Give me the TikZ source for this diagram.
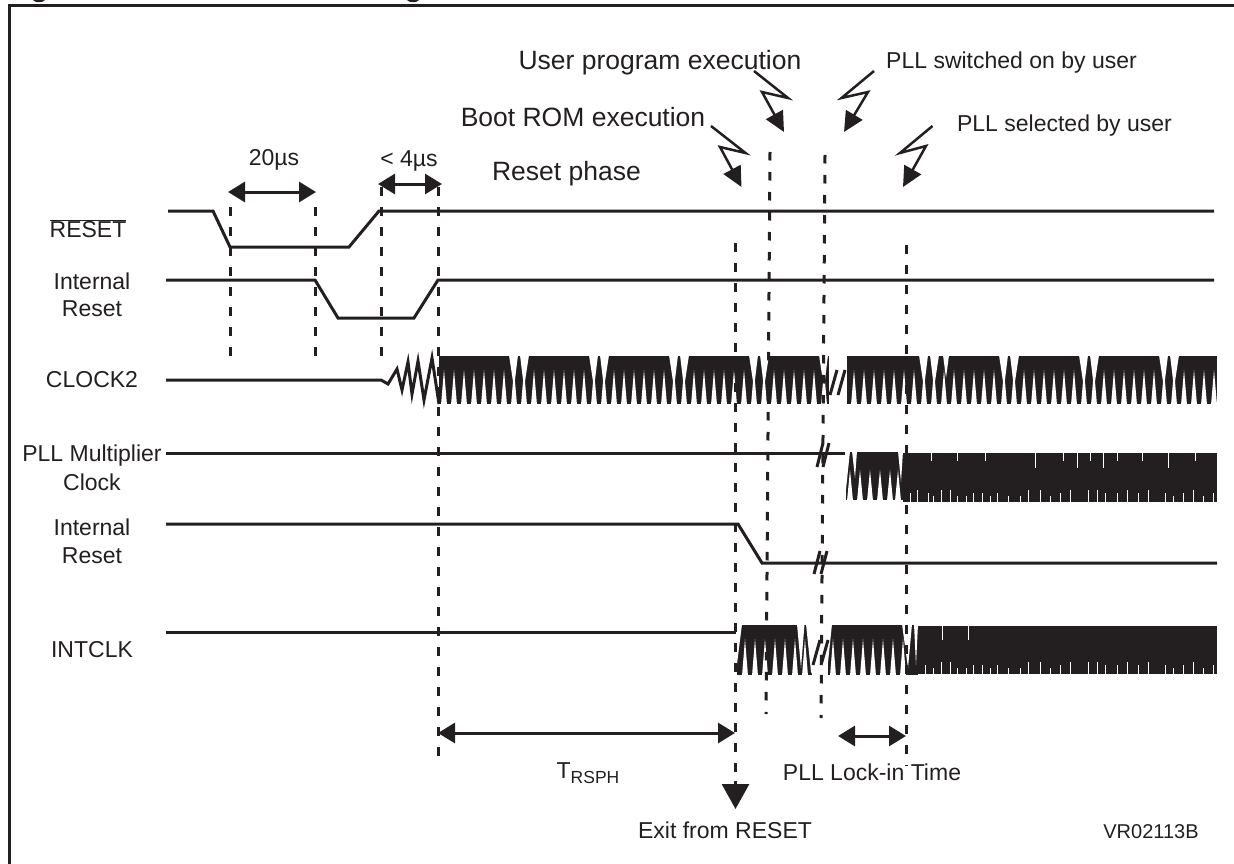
\documentclass[tikz,border=0pt]{standalone}
\usepackage{fontspec}
\setmainfont{Liberation Sans}
\usepackage{tikz}
\usetikzlibrary{arrows.meta}

\definecolor{ink}{HTML}{231F20}
\tikzset{
    lab/.style={font=\fontsize{23}{27}\selectfont, text=ink, align=center},
    biglab/.style={font=\fontsize{26.5}{30}\selectfont, text=ink},
    smalllab/.style={font=\fontsize{20}{24}\selectfont, text=ink},
    signal/.style={draw=ink, line width=3pt, line join=miter},
    marker/.style={draw=ink, line width=3pt, dash pattern=on 8.5pt off 11.5pt},
    wave/.style={fill=ink, draw=none},
    notch/.style={fill=white, draw=none},
    hairline/.style={draw=white, line width=0.6pt},
    slash/.style={draw=ink, line width=3pt},
    dimarrow/.style={draw=ink, line width=3pt, {Triangle[length=17pt,width=20pt]}-{Triangle[length=17pt,width=20pt]}},
    bolt/.style={draw=ink, line width=2.5pt, line join=miter, -{Triangle[length=20pt,width=19pt]}}
}

\begin{document}
\begin{tikzpicture}[x=1pt, y=-1pt]
            \useasboundingbox (0,0) rectangle (1234,864);

            % Frame (top and left only) and clipped title
            \draw[draw=ink, line width=3pt] (1234,6) -- (9.5,6) -- (9.5,864);
            \fill[ink] (33,0) .. controls (35,3) and (43,3) .. (45,0) -- cycle;
            \fill[ink] (407,0) .. controls (409,3) and (417,3) .. (419,0) -- cycle;

            % Signal names
            \node[lab] (resetname) at (88,229) {$\overline{\mbox{RESET}}$};
            \node[lab] (intresetA) at (92,295) {Internal\\Reset};
            \node[lab] (clockname) at (92,380) {CLOCK2};
            \node[lab, font=\fontsize{23}{29}\selectfont] (pllname) at (92,467.5) {PLL Multiplier\\Clock};
            \node[lab, font=\fontsize{23}{28}\selectfont] (intresetB) at (92,541) {Internal\\Reset};
            \node[lab] (intclkname) at (92,650) {INTCLK};

            % Levels
            \draw[signal] (168,211) -- (213,211) -- (230,247) -- (349,247) -- (379,211) -- (1214,211);
            \draw[signal] (166,280) -- (315,280) -- (338,318) -- (414,318) -- (438,280) -- (1214,280);
            \draw[signal] (166,453) -- (846,453);
            \draw[signal] (166,524) -- (738,524) -- (762,563) -- (1217,563);
            \draw[signal] (166,632) -- (738,632);

            % CLOCK2 start-up and bursts
            \draw[signal] (166,380) -- (381,380) -- (388,384) -- (397,369) -- (402,390) -- (408,362) -- (412,394) -- (418,361) -- (424,400) -- (432,358) -- (439,404);
            \fill[wave] (439,356) rectangle (829,404);
            \fill[wave] (847,356) rectangle (1217,404);
            \foreach \x in {444,454,...,824,854,864,...,1214}
                \fill[notch] (\x-3,405) -- (\x,370) -- (\x+3,405) -- cycle;
            \foreach \x in {514,594,674,754,824,924,1004,1084,1164} {
                \fill[notch] (\x-5,355) -- (\x,388) -- (\x+4,355) -- cycle;
                \fill[notch] (\x+6,355) -- (\x+10,388) -- (\x+15,355) -- cycle;
            }
            \fill[notch] (829,355) rectangle (840,405);
            \fill[notch] (943,355) -- (946,378) -- (949,355) -- cycle;
            \draw[slash] (830,395) -- (837,370);
            \draw[slash] (838,395) -- (845,370);

            % PLL multiplier clock
            \draw[slash] (817,467) -- (823,443);
            \draw[slash] (823,467) -- (829,443);
            \fill[wave] (846,452) rectangle (903,500);
            \fill[wave] (903,453) rectangle (1217,502);
            \foreach \x in {850,860,870,880,890,898}
                \fill[notch] (\x-3,501) -- (\x,470) -- (\x+3,501) -- cycle;
            \fill[notch] (845,451) -- (845,499) -- (850,451) -- cycle;
            \fill[notch] (852,451) -- (855,478) -- (857,451) -- cycle;
            \fill[notch] (898,451) -- (901,482) -- (903,451) -- cycle;
            \foreach \x in {931,957,985,1063,1090,1117,1142,1195}
                \draw[hairline] (\x,453) -- (\x,461);
            \foreach \x in {1035,1077,1103,1168}
                \draw[hairline] (\x,453) -- (\x,468);
            \foreach \x in {910,917,928,933,941,950,957,966,973,982,990,997,1008,1020,1028,1040,1050,1060,1070,1088,1097,1105,1117,1127,1138,1148,1165,1173,1183,1193,1203,1213}
                \draw[hairline] (\x,503) -- (\x,{496-mod(\x,3)*3});

            % Internal reset break
            \draw[slash] (814,574) -- (820,551);
            \draw[slash] (821,574) -- (827,551);

            % INTCLK bursts
            \fill[wave] (737,625) rectangle (812,675);
            \fill[wave] (828,625) rectangle (918,675);
            \fill[wave] (918,626) rectangle (1217,674);
            \foreach \x in {745,755,...,805,833,843,...,903}
                \fill[notch] (\x-3,676) -- (\x,639) -- (\x+3,676) -- cycle;
            \fill[notch] (736,624) -- (742,624) -- (736,672) -- cycle;
            \fill[notch] (797,624) -- (801,668) -- (804.5,624) -- cycle;
            \fill[notch] (806,624) -- (811,672) -- (813,676) -- (813,624) -- cycle;
            \fill[notch] (827,624) -- (832,624) -- (827,672) -- cycle;
            \fill[notch] (902,624) -- (908,668) -- (912,624) -- cycle;
            \fill[notch] (914,624) -- (916,665) -- (918,624) -- cycle;
            \draw[slash] (813,665) -- (820,640);
            \draw[slash] (821,665) -- (828,640);
            \foreach \x in {942,968}
                \draw[hairline] (\x,626) -- (\x,640);
            \foreach \x in {925,933,941,950,957,966,973,982,990,997,1008,1020,1028,1040,1050,1060,1070,1088,1097,1105,1117,1127,1138,1148,1165,1173,1183,1193,1203,1213}
                \draw[hairline] (\x,675) -- (\x,{668-mod(\x,3)*3});

            % Dashed markers
            \draw[marker] (230,207) -- (230,366);
            \draw[marker] (315,207) -- (315,366);
            \draw[marker] (381,187) -- (381,364);
            \draw[marker] (438,187) -- (438,766);
            \draw[marker] (735,243) -- (735,782);
            \draw[marker] (770,152) -- (766,714);
            \draw[marker] (825,155) -- (821,718);
            \draw[marker] (906.5,245) -- (906.5,766);

            % Timing dimensions
            \coordinate (phaseA) at (228,192);
            \coordinate (phaseB) at (316,192);
            \coordinate (phaseC) at (378,184);
            \coordinate (phaseD) at (442,184);
            \coordinate (phaseE) at (438,733);
            \coordinate (phaseF) at (735,733);
            \coordinate (phaseG) at (838,736);
            \coordinate (phaseH) at (906,736);
            \draw[dimarrow] (phaseA) -- (phaseB);
            \draw[dimarrow] (phaseC) -- (phaseD);
            \draw[dimarrow] (phaseE) -- (phaseF);
            \draw[dimarrow] (phaseG) -- (phaseH);
            \node[lab] (twenty) at (274,160) {20µs};
            \node[lab] (four) at (409,161) {< 4µs};
            \node[lab] (trsph) at (588,773) {T\raisebox{-5pt}{\fontsize{17.5}{20}\selectfont RSPH}};
            \node[lab] (lockin) at (872,772) {PLL Lock-in Time};

            % Exit arrow
            \coordinate (exittop) at (735.5,781);
            \coordinate (exittip) at (735.5,809);
            \draw[draw=ink, line width=3pt, -{Triangle[length=25pt,width=27pt]}] (exittop) -- (exittip);
            \node[lab] (exitname) at (725,830) {Exit from RESET};
            \node[smalllab] (figcode) at (1151,832) {VR02113B};

            % Phase labels and their bolts
            \node[biglab] (userexec) at (660,63) {User program execution};
            \node[biglab] (bootexec) at (583,117) {Boot ROM execution};
            \node[biglab] (resetphase) at (566.5,174) {Reset phase};
            \node[lab] (pllon) at (1011.5,63) {PLL switched on by user};
            \node[lab] (pllsel) at (1064.5,126) {PLL selected by user};
            \draw[bolt] (754,71) -- (788,98) -- (762,92) -- (784,132);
            \draw[bolt] (874,71) -- (841.5,98) -- (868,92) -- (844,132);
            \draw[bolt] (711,126) -- (745.5,153) -- (720,147) -- (741.5,187);
            \draw[bolt] (932.5,126) -- (900,153) -- (926,146) -- (903,187);
        \end{tikzpicture}
\end{document}
